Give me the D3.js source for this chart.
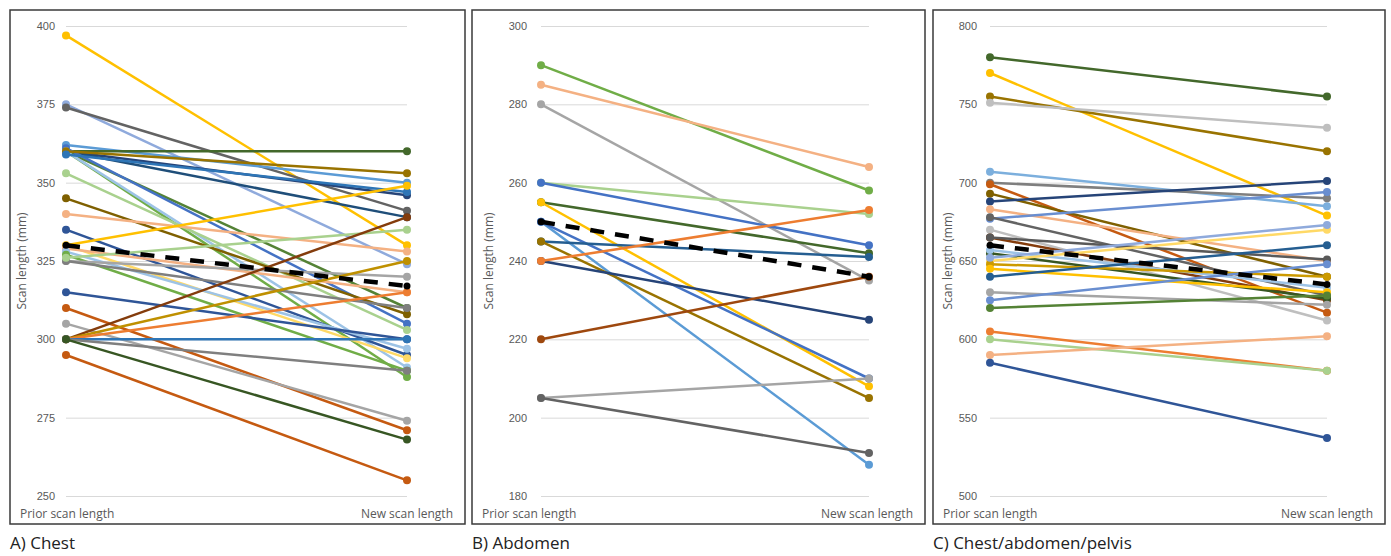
<!DOCTYPE html>
<html>
<head>
<meta charset="utf-8">
<script src="https://cdn.jsdelivr.net/npm/d3@7"></script>
<style>
  body { margin: 0; background: #fff; }
  svg { display: block; font-family: "Open Sans", sans-serif; }
  .tick text { fill: #595959; font-size: 11px; }
  .tick line { stroke: #d9d9d9; }
</style>
</head>
<body>
<svg id="chart" width="1391" height="556"></svg>
<script>
const categories = ['Prior scan length', 'New scan length'];

// A) Chest
const chestPrior = [397, 375, 374, 362, 360, 360, 360, 360, 360, 361, 360, 360, 359, 353, 345, 340, 335, 330, 330, 329, 328, 327, 325, 325, 326, 315, 310, 305, 300, 300, 300, 300, 300, 300, 295];
const chestNew   = [330, 324, 341, 350, 360, 346, 339, 310, 288, 305, 291, 353, 347, 303, 308, 328, 295, 349, 294, 315, 297, 290, 320, 310, 335, 300, 271, 274, 339, 325, 315, 300, 290, 268, 255];
const chestMean  = [330, 317];
const chestTicks = [250, 275, 300, 325, 350, 375, 400];

// B) Abdomen
const abdomenPrior = [290, 285, 280, 260, 260, 255, 255, 250, 250, 245, 245, 240, 240, 220, 205, 205];
const abdomenNew   = [258, 264, 235, 252, 244, 242, 208, 188, 210, 241, 205, 225, 253, 236, 210, 191];
const abdomenMean  = [250, 236];
const abdomenTicks = [180, 200, 220, 240, 260, 280, 300];

// C) Chest/abdomen/pelvis
const capPrior = [780, 770, 755, 751, 707, 700, 699, 693, 688, 683, 677, 678, 670, 665, 665, 655, 657, 650, 648, 652, 645, 640, 630, 625, 620, 605, 600, 590, 585];
const capNew   = [755, 679, 720, 735, 685, 690, 617, 640, 701, 650, 694, 628, 612, 625, 651, 626, 633, 670, 640, 673, 630, 660, 622, 648, 628, 580, 580, 602, 537];
const capMean  = [660, 635];
const capTicks = [500, 550, 600, 650, 700, 750, 800];

const chestColors = ['#FFC000', '#8FAADC', '#636363', '#5B9BD5', '#43682B', '#264478', '#1F4E79', '#548235', '#70AD47', '#4472C4', '#9DC3E6', '#997300', '#2E75B6', '#A9D18E', '#7F6000', '#F4B183', '#2F5597', '#FFC000', '#FFD966', '#F4B183', '#9DC3E6', '#70AD47', '#A5A5A5', '#7F7F7F', '#A9D18E', '#2F5597', '#C55A11', '#A5A5A5', '#843C0C', '#BF9000', '#ED7D31', '#2E75B6', '#7F7F7F', '#375623', '#C55A11'];
const abdomenColors = ['#70AD47', '#F4B183', '#A5A5A5', '#A9D18E', '#4472C4', '#43682B', '#FFC000', '#5B9BD5', '#4472C4', '#255E91', '#997300', '#264478', '#ED7D31', '#9E480E', '#A5A5A5', '#636363'];
const capColors = ['#43682B', '#FFC000', '#997300', '#BFBFBF', '#7CAFDD', '#7F7F7F', '#C55A11', '#7F6000', '#264478', '#F4B183', '#698ED0', '#636363', '#BFBFBF', '#843C0C', '#595959', '#375623', '#9DC3E6', '#FFD966', '#CC9A00', '#8FAADC', '#FFC000', '#255E91', '#A5A5A5', '#698ED0', '#548235', '#ED7D31', '#A9D18E', '#F4B183', '#2F5597'];

const panels = [
  { caption: 'A) Chest', prior: chestPrior, next: chestNew, mean: chestMean, ticks: chestTicks, colors: chestColors,
    frame: [10, 465], left: 66, right: 407, labelRight: 55, titleX: 22 },
  { caption: 'B) Abdomen', prior: abdomenPrior, next: abdomenNew, mean: abdomenMean, ticks: abdomenTicks, colors: abdomenColors,
    frame: [472, 925], left: 541, right: 869, labelRight: 527, titleX: 489 },
  { caption: 'C) Chest/abdomen/pelvis', prior: capPrior, next: capNew, mean: capMean, ticks: capTicks, colors: capColors,
    frame: [933, 1385], left: 990, right: 1327, labelRight: 977, titleX: 948 }
];

const svg = d3.select('#chart');
const plotTop = 26, plotBottom = 496;

panels.forEach(function(p) {
  const g = svg.append('g');

  g.append('rect')
    .attr('x', p.frame[0]).attr('y', 10)
    .attr('width', p.frame[1] - p.frame[0]).attr('height', 514)
    .attr('fill', '#fff').attr('stroke', '#3a3a3a').attr('stroke-width', 1.5);

  const x = d3.scalePoint().domain(categories).range([p.left, p.right]);
  const y = d3.scaleLinear().domain(d3.extent(p.ticks)).range([plotBottom, plotTop]);

  const axis = g.append('g')
    .attr('transform', 'translate(' + p.left + ',0)')
    .call(d3.axisLeft(y).tickValues(p.ticks).tickSize(-(p.right - p.left))
      .tickPadding(p.left - p.labelRight));
  axis.select('.domain').remove();

  g.append('text')
    .attr('transform', 'translate(' + p.titleX + ',' + ((plotTop + plotBottom) / 2) + ') rotate(-90)')
    .attr('text-anchor', 'middle').attr('dy', '0.35em')
    .attr('fill', '#595959').style('font-size', '12px')
    .text('Scan length (mm)');

  g.append('text').attr('x', p.frame[0] + 10).attr('y', 518)
    .attr('fill', '#595959').style('font-size', '12px').text(categories[0]);
  g.append('text').attr('x', p.frame[1] - 12).attr('y', 518).attr('text-anchor', 'end')
    .attr('fill', '#595959').style('font-size', '12px').text(categories[1]);

  g.append('text').attr('x', p.frame[0]).attr('y', 549)
    .attr('fill', '#222').style('font-size', '17px').text(p.caption);

  const line = d3.line().x(d => x(d.cat)).y(d => y(d.v));
  const series = p.prior.map((v, i) => ({
    color: p.colors[i % p.colors.length],
    pts: [{ cat: categories[0], v: v }, { cat: categories[1], v: p.next[i] }]
  }));

  const s = g.append('g').selectAll('g').data(series).enter().append('g');
  s.append('path')
    .attr('d', d => line(d.pts))
    .attr('fill', 'none').attr('stroke', d => d.color).attr('stroke-width', 2.5);
  s.selectAll('circle').data(d => d.pts.map(pt => ({ ...pt, color: d.color })))
    .enter().append('circle')
    .attr('cx', d => x(d.cat)).attr('cy', d => y(d.v)).attr('r', 4)
    .attr('fill', d => d.color);

  // mean of all patients, dashed black
  const meanPts = [{ cat: categories[0], v: p.mean[0] }, { cat: categories[1], v: p.mean[1] }];
  g.append('path')
    .attr('d', line(meanPts))
    .attr('fill', 'none').attr('stroke', '#000').attr('stroke-width', 4.5)
    .attr('stroke-dasharray', '14,11');
  g.selectAll('circle.mean').data(meanPts).enter().append('circle')
    .attr('class', 'mean')
    .attr('cx', d => x(d.cat)).attr('cy', d => y(d.v)).attr('r', 3.5)
    .attr('fill', '#000');
});
</script>
</body>
</html>
